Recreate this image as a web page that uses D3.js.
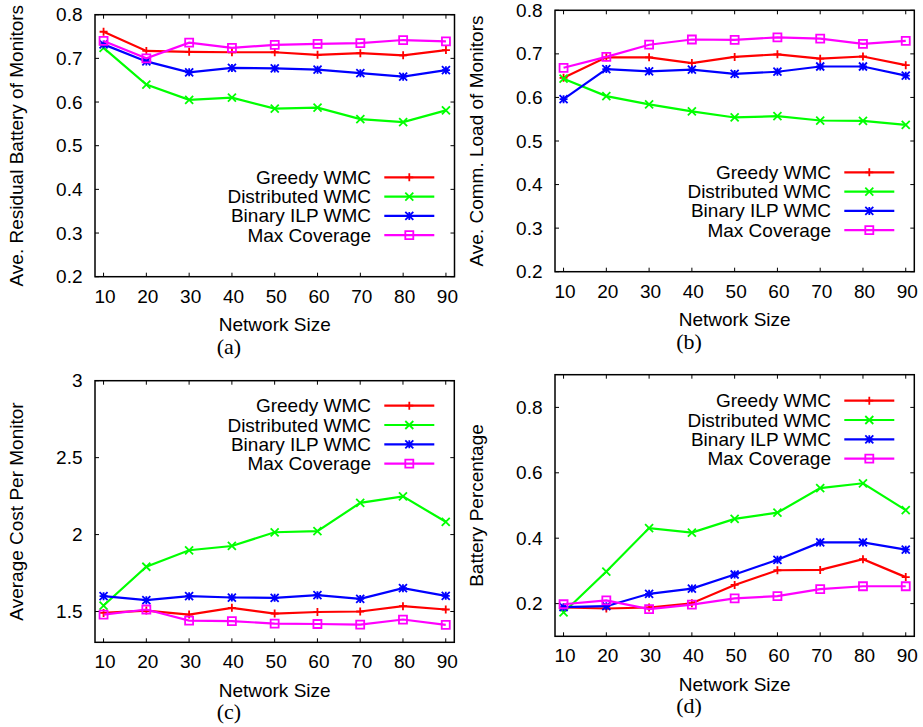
<!DOCTYPE html>
<html>
<head>
<meta charset="utf-8">
<script src="https://cdn.jsdelivr.net/npm/d3@7"></script>
<style>
  html, body { margin: 0; padding: 0; background: #ffffff; }
  svg { display: block; }
  text { font-family: "Liberation Sans", Arial, Helvetica, sans-serif; fill: #000; }
  .cap { font-family: "Liberation Serif", "DejaVu Serif", serif; }
</style>
</head>
<body>
<svg id="chart" width="923" height="727"></svg>
<script>
// ---------- data ----------
const networkSizes = [10, 20, 30, 40, 50, 60, 70, 80, 90];
const seriesNames = ["Greedy WMC", "Distributed WMC", "Binary ILP WMC", "Max Coverage"];

// (a) Ave. Residual Battery of Monitors
const residualGreedy  = [0.761, 0.717, 0.715, 0.714, 0.714, 0.708, 0.712, 0.707, 0.719];
const residualDist    = [0.724, 0.640, 0.605, 0.610, 0.585, 0.587, 0.561, 0.554, 0.581];
const residualBinary  = [0.732, 0.693, 0.668, 0.678, 0.677, 0.674, 0.666, 0.658, 0.673];
const residualMaxCov  = [0.740, 0.700, 0.736, 0.724, 0.731, 0.733, 0.735, 0.742, 0.739];

// (b) Ave. Comm. Load of Monitors
const loadGreedy  = [0.645, 0.692, 0.692, 0.679, 0.693, 0.699, 0.689, 0.694, 0.674];
const loadDist    = [0.643, 0.603, 0.584, 0.568, 0.554, 0.557, 0.547, 0.546, 0.537];
const loadBinary  = [0.596, 0.665, 0.660, 0.664, 0.654, 0.659, 0.671, 0.671, 0.650];
const loadMaxCov  = [0.668, 0.693, 0.721, 0.733, 0.732, 0.738, 0.735, 0.723, 0.730];

// (c) Average Cost Per Monitor
const costGreedy  = [1.491, 1.506, 1.480, 1.524, 1.487, 1.497, 1.500, 1.535, 1.513];
const costDist    = [1.539, 1.791, 1.898, 1.926, 2.015, 2.022, 2.206, 2.248, 2.083];
const costBinary  = [1.600, 1.574, 1.600, 1.591, 1.589, 1.606, 1.582, 1.652, 1.602];
const costMaxCov  = [1.480, 1.513, 1.441, 1.437, 1.422, 1.419, 1.415, 1.448, 1.413];

// (d) Battery Percentage
const battGreedy  = [0.188, 0.185, 0.188, 0.201, 0.257, 0.302, 0.303, 0.336, 0.281];
const battDist    = [0.173, 0.298, 0.431, 0.417, 0.459, 0.478, 0.553, 0.568, 0.486];
const battBinary  = [0.189, 0.192, 0.230, 0.246, 0.289, 0.334, 0.387, 0.387, 0.365];
const battMaxCov  = [0.198, 0.210, 0.183, 0.197, 0.216, 0.223, 0.244, 0.253, 0.253];

// axis ticks
const xTickValues = networkSizes;
const yTicksA = [0.2, 0.3, 0.4, 0.5, 0.6, 0.7, 0.8];
const yTicksB = [0.2, 0.3, 0.4, 0.5, 0.6, 0.7, 0.8];
const yTicksC = [1.5, 2, 2.5, 3];
const yTicksD = [0.2, 0.4, 0.6, 0.8];

// ---------- styling (separate from data) ----------
const seriesColors = ["#ff0000", "#00ff00", "#0000ff", "#ff00ff"];
const markerKinds = ["plus", "cross", "star", "square"];
const FS = 19;

const svg = d3.select("#chart");

function markerPath(kind, s) {
  const p = d3.path();
  if (kind === "plus" || kind === "star") {
    p.moveTo(-s, 0); p.lineTo(s, 0);
    p.moveTo(0, -s); p.lineTo(0, s);
  }
  if (kind === "cross" || kind === "star") {
    p.moveTo(-s, -s); p.lineTo(s, s);
    p.moveTo(-s, s); p.lineTo(s, -s);
  }
  if (kind === "square") {
    p.rect(-s, -s, 2 * s, 2 * s);
  }
  return p.toString();
}

function drawPanel(cfg) {
  const g = svg.append("g");
  const x = d3.scaleLinear().domain([8, 92]).range([cfg.left, cfg.right]);
  const y = d3.scaleLinear().domain(cfg.yDomain).range([cfg.bottom, cfg.top]);
  const tickLen = 4;

  // frame
  g.append("rect")
    .attr("x", cfg.left).attr("y", cfg.top)
    .attr("width", cfg.right - cfg.left).attr("height", cfg.bottom - cfg.top)
    .attr("fill", "none").attr("stroke", "#000").attr("stroke-width", 1.5);

  // x ticks (bottom + mirrored top)
  const xt = g.append("g");
  xTickValues.forEach(v => {
    xt.append("line").attr("x1", x(v)).attr("x2", x(v))
      .attr("y1", cfg.bottom).attr("y2", cfg.bottom - tickLen)
      .attr("stroke", "#000").attr("stroke-width", 1);
    xt.append("line").attr("x1", x(v)).attr("x2", x(v))
      .attr("y1", cfg.top).attr("y2", cfg.top + tickLen)
      .attr("stroke", "#000").attr("stroke-width", 1);
    xt.append("text").attr("x", x(v) + 1.5).attr("y", cfg.bottom + 19.5)
      .attr("text-anchor", "middle").attr("dominant-baseline", "central")
      .attr("font-size", FS).text(v);
  });

  // y ticks (left + mirrored right)
  const yt = g.append("g");
  cfg.yTicks.forEach(v => {
    yt.append("line").attr("x1", cfg.left).attr("x2", cfg.left + tickLen)
      .attr("y1", y(v)).attr("y2", y(v))
      .attr("stroke", "#000").attr("stroke-width", 1);
    yt.append("line").attr("x1", cfg.right).attr("x2", cfg.right - tickLen)
      .attr("y1", y(v)).attr("y2", y(v))
      .attr("stroke", "#000").attr("stroke-width", 1);
    yt.append("text").attr("x", cfg.left - 12.5).attr("y", y(v))
      .attr("text-anchor", "end").attr("dominant-baseline", "central")
      .attr("font-size", FS).text(cfg.yFormat(v));
  });

  // axis titles
  g.append("text")
    .attr("x", (cfg.left + cfg.right) / 2).attr("y", cfg.bottom + 47.8)
    .attr("text-anchor", "middle").attr("dominant-baseline", "central")
    .attr("font-size", FS).text("Network Size");
  g.append("text")
    .attr("transform", `translate(${cfg.left - 79},${(cfg.top + cfg.bottom) / 2}) rotate(-90)`)
    .attr("text-anchor", "middle").attr("dominant-baseline", "central")
    .attr("font-size", FS).text(cfg.yTitle);
  g.append("text").attr("class", "cap")
    .attr("x", cfg.left + 134).attr("y", cfg.bottom + 69.3)
    .attr("text-anchor", "middle").attr("dominant-baseline", "central")
    .attr("font-size", 22).text(cfg.caption);

  // series
  const line = d3.line().x((d, i) => x(networkSizes[i])).y(d => y(d));
  cfg.series.forEach((vals, si) => {
    const col = seriesColors[si];
    g.append("path").datum(vals)
      .attr("d", line).attr("fill", "none")
      .attr("stroke", col).attr("stroke-width", 2.2).attr("stroke-linejoin", "miter");
    g.selectAll(null).data(vals).enter().append("path")
      .attr("transform", (d, i) => `translate(${x(networkSizes[i])},${y(d)})`)
      .attr("d", markerPath(markerKinds[si], 4))
      .attr("fill", "none").attr("stroke", col).attr("stroke-width", 1.8);
  });

  // legend
  const lg = g.append("g");
  seriesNames.forEach((name, si) => {
    const ly = cfg.top + cfg.legendTop + si * 19.3;
    const tx = cfg.left + 276;
    lg.append("text").attr("x", tx).attr("y", ly)
      .attr("text-anchor", "end").attr("dominant-baseline", "central")
      .attr("font-size", FS).text(name);
    lg.append("line").attr("x1", tx + 13.3).attr("x2", tx + 63.3)
      .attr("y1", ly).attr("y2", ly)
      .attr("stroke", seriesColors[si]).attr("stroke-width", 2.2);
    lg.append("path")
      .attr("transform", `translate(${tx + 38.3},${ly})`)
      .attr("d", markerPath(markerKinds[si], 4))
      .attr("fill", "none").attr("stroke", seriesColors[si]).attr("stroke-width", 1.8);
  });
}

const fmt1 = d3.format(".1f");
const fmtC = v => String(v);

drawPanel({
  left: 95, right: 454.5, top: 14.7, bottom: 276.7,
  yDomain: [0.2, 0.8], yTicks: yTicksA, yFormat: fmt1,
  yTitle: "Ave. Residual Battery of Monitors", caption: "(a)", legendTop: 162.6,
  series: [residualGreedy, residualDist, residualBinary, residualMaxCov]
});
drawPanel({
  left: 555, right: 914.3, top: 10.3, bottom: 271.7,
  yDomain: [0.2, 0.8], yTicks: yTicksB, yFormat: fmt1,
  yTitle: "Ave. Comm. Load of Monitors", caption: "(b)", legendTop: 162,
  series: [loadGreedy, loadDist, loadBinary, loadMaxCov]
});
drawPanel({
  left: 95, right: 454.3, top: 380.7, bottom: 642.3,
  yDomain: [1.3, 3], yTicks: yTicksC, yFormat: fmtC,
  yTitle: "Average Cost Per Monitor", caption: "(c)", legendTop: 25,
  series: [costGreedy, costDist, costBinary, costMaxCov]
});
drawPanel({
  left: 555, right: 914.3, top: 374.7, bottom: 636.3,
  yDomain: [0.1, 0.9], yTicks: yTicksD, yFormat: fmt1,
  yTitle: "Battery Percentage", caption: "(d)", legendTop: 26,
  series: [battGreedy, battDist, battBinary, battMaxCov]
});
</script>
</body>
</html>
